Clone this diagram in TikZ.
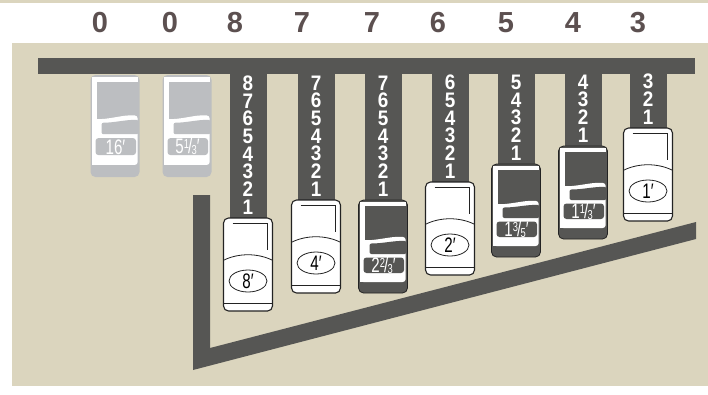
\documentclass[tikz,border=0pt]{standalone}
\usepackage{fontspec}
\usepackage{tikz}
\usetikzlibrary{shapes.geometric}
\setmainfont{Liberation Sans}
\newfontfamily\condfont[FakeStretch=0.72]{Liberation Sans}
\newfontfamily\digfont[FakeStretch=0.9]{Liberation Sans}

\definecolor{panel}{RGB}{219,213,190}
\definecolor{bardark}{RGB}{86,86,84}
\definecolor{tabgray}{RGB}{188,190,193}
\definecolor{headnum}{RGB}{92,80,80}
\definecolor{rim}{RGB}{35,35,35}

\newcommand{\frc}[2]{\raisebox{5pt}{\fontsize{13}{13}\selectfont #1}\kern-0.8pt/\kern-0.8pt\raisebox{-1pt}{\fontsize{13}{13}\selectfont #2}}

% white tab: centre x, top y, label, name
\newcommand{\whitetab}[4]{%
  \begin{scope}[shift={(#1-24.5,#2)}]
    \fill[white,draw=rim,line width=1.1pt,rounded corners=5pt] (0,0) rectangle (49,93);
    \draw[tabline] (9,5) -- (43.5,5) -- (43.5,32);
    \draw[tabline] (0.6,42) .. controls (15,35) and (34,35) .. (48.4,42);
    \draw[tabline] (0.6,85) -- (48.4,85);
    \node[footage,draw=rim,ellipse,line width=0.8pt,minimum width=38pt,minimum height=22pt] (#4) at (24.5,63) {#3};
  \end{scope}}
% filled tab with white inlay: centre x, top y, yscale, body, rim, label, name
\newcommand{\inlaytab}[7]{%
  \begin{scope}[shift={(#1-24.5,#2)},yscale=#3]
    \fill[#4,draw=#5,line width=0.8pt,rounded corners=5pt] (0,0) rectangle (49,93);
    \fill[white] (1.8,1.8) rectangle (47.2,6);
    \fill[white] (1.8,1.8) rectangle (6,82);
    \fill[white,rounded corners=3pt] (1.8,40) .. controls (18,41) and (32,36) .. (47.2,37) -- (47.2,82) -- (1.8,82) -- cycle;
    \fill[#4,rounded corners=2pt] (11,43.5) .. controls (24,43.5) and (36,40.5) .. (48,41) -- (48,54) -- (11,54) -- cycle;
    \fill[#4,rounded corners=3pt] (5,57.5) rectangle (45.5,73);
    \node[footage,text=white] (#7) at (25,65.5) {#6};
  \end{scope}}
\newcommand{\darktab}[4]{\inlaytab{#1}{#2}{1}{bardark}{rim}{#3}{#4}}
\newcommand{\graytab}[4]{\inlaytab{#1}{#2}{1.097}{tabgray}{none}{#3}{#4}}

\begin{document}
\begin{tikzpicture}[
  x=1pt,y=-1pt,
  tabline/.style={draw=rim,line width=0.8pt},
  footage/.style={inner sep=0pt,font={\condfont\fontsize{21}{21}\selectfont}},
  headnum/.style={inner sep=0pt,text=headnum,font={\fontsize{29}{29}\selectfont\bfseries}},
  stopnum/.style={inner sep=0pt,text=white,font={\digfont\fontsize{21}{21}\selectfont\bfseries}},
]
\useasboundingbox (0,0) rectangle (708,394);
\fill[white] (0,0) rectangle (708,394);
\fill[panel] (0,0) rectangle (708,3);
\fill[panel] (12,43) rectangle (708,386);
% top rail
\fill[bardark] (38,58) rectangle (695,74);
% drawbars
\foreach \cx/\hx/\pull/\kind/\lab [count=\i,
    evaluate=\pull as \tp using {\pull==0 ? 75 : 74+18*\pull}] in {
  115/100/0/gray/16′,
  187/170/0/gray/5\frc13′,
  248/235/8/white/8′,
  316/302/7/white/4′,
  383/372/7/dark/2\frc23′,
  450/438/6/white/2′,
  516/506/5/dark/1\frc35′,
  583/573/4/dark/1\frc13′,
  648/638/3/white/1′}{
  \node[headnum] (head\i) at (\hx,23) {\pull};
  \ifnum\pull>0
    \fill[bardark] (\cx-18.5,70) rectangle (\cx+18.5,\tp+4);
    \foreach \k in {1,...,\pull}
      \node[stopnum] (d\i-\k) at (\cx,\tp-11-17.7*\k+17.7) {\k};
  \fi
  \csname\kind tab\endcsname{\cx}{\tp}{\lab}{ft\i}
}
% lower stop
\fill[bardark] (193,195) -- (210,195) -- (210,348) -- (696,222) -- (696,239) -- (193,370) -- cycle;
\end{tikzpicture}
\end{document}
